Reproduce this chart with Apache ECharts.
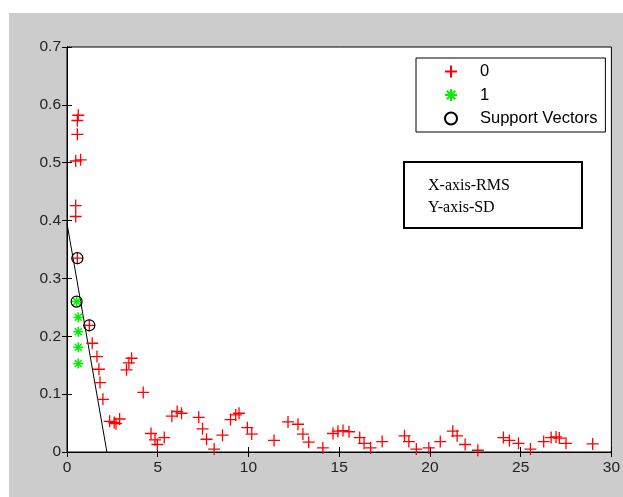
<!DOCTYPE html>
<html>
<head>
<meta charset="utf-8">
<script src="https://cdn.jsdelivr.net/npm/echarts@6/dist/echarts.min.js"></script>
<style>html,body{margin:0;padding:0;background:#fff;}#c{width:623px;height:497px;}</style>
</head>
<body>
<div id="c"></div>
<script>
// Class 0 (red +)
var class0X = [0.62,0.57,0.57,0.48,0.75,0.48,0.48,0.57,1.23,1.39,1.65,1.76,1.82,1.98,
  2.35,2.6,2.7,2.9,3.28,3.41,3.56,4.2,4.63,4.85,4.98,5.36,5.78,6.07,6.31,
  7.26,7.47,7.69,8.11,8.57,9.01,9.30,9.48,9.94,10.18,11.41,12.18,12.73,13.0,13.32,14.1,
  14.66,14.93,15.21,15.54,16.13,16.37,16.73,17.37,18.60,18.84,19.25,19.94,20.57,21.26,21.50,21.94,22.64,
  24.05,24.38,24.88,25.54,26.27,26.68,26.95,27.13,27.50,28.97];
var class0Y = [0.582,0.573,0.549,0.503,0.505,0.426,0.407,0.335,0.219,0.188,0.165,0.143,0.120,0.091,
  0.053,0.051,0.049,0.057,0.142,0.154,0.162,0.103,0.032,0.021,0.013,0.025,0.062,0.070,0.067,
  0.060,0.040,0.022,0.005,0.029,0.056,0.064,0.067,0.042,0.031,0.020,0.052,0.048,0.031,0.017,0.007,
  0.032,0.036,0.037,0.035,0.025,0.015,0.007,0.018,0.028,0.018,0.005,0.007,0.018,0.036,0.028,0.013,0.003,
  0.025,0.020,0.015,0.005,0.018,0.025,0.026,0.024,0.015,0.014];
// Class 1 (green *)
var class1X = [0.53,0.62,0.62,0.62,0.62];
var class1Y = [0.260,0.233,0.208,0.181,0.153];
// Support vectors (black o)
var svX = [0.57,0.53,1.23];
var svY = [0.335,0.260,0.219];
// Separating line
var lineX = [0,2.2];
var lineY = [0.395,0];
var xTicks = [0,5,10,15,20,25,30];
var yTicks = [0,0.1,0.2,0.3,0.4,0.5,0.6,0.7];
var seriesNames = ['0','1','Support Vectors'];

function zip(a,b){return a.map(function(v,i){return [v,b[i]];});}

var plusPath = 'path://M5,0V10M0,5H10';
var starPath = 'path://M5,0V10M0,5H10M1.5,1.5L8.5,8.5M8.5,1.5L1.5,8.5';
var circlePath = 'path://M9,5A4,4,0,1,1,1,5A4,4,0,1,1,9,5Z';
var axFont = {fontFamily:'Liberation Sans, Arial, sans-serif', fontSize:15.5, color:'#222'};

var chart = echarts.init(document.getElementById('c'), null, {renderer:'canvas'});
chart.setOption({
  backgroundColor:'#ffffff',
  animation:false,
  graphic:[
    {type:'rect', z:-10, shape:{x:9,y:13,width:614,height:484}, style:{fill:'#cccccc'}},
    {type:'group', z:50, children:[
      {type:'rect', shape:{x:404,y:162,width:178,height:66}, style:{fill:'#fff', stroke:'#000', lineWidth:2}},
      {type:'text', x:428, y:186, style:{text:'X-axis-RMS', font:'16px "Liberation Serif", "Times New Roman", serif', fill:'#000', textVerticalAlign:'middle', verticalAlign:'middle'}},
      {type:'text', x:428, y:208, style:{text:'Y-axis-SD', font:'16px "Liberation Serif", "Times New Roman", serif', fill:'#000', textVerticalAlign:'middle', verticalAlign:'middle'}}
    ]}
  ],
  grid:{left:67, top:47, right:11, bottom:45, show:true, backgroundColor:'#ffffff', borderColor:'#000', borderWidth:1},
  legend:{
    data:seriesNames.map(function(n,i){return {name:n, icon:[plusPath,starPath,'circle'][i]};}),
    orient:'vertical', left:416, top:58,
    padding:[5,8,5,28], itemGap:6.5, itemWidth:12, itemHeight:12,
    backgroundColor:'#fff', borderColor:'#000', borderWidth:1,
    textStyle:{fontFamily:'Liberation Sans, Arial, sans-serif', fontSize:16.5, color:'#000', padding:[0,0,0,18]},
    selectedMode:false
  },
  xAxis:[
    {type:'value', min:0, max:30, interval:5, position:'bottom',
     axisLine:{show:true, lineStyle:{color:'#000'}}, axisTick:{show:true, inside:true, length:5, lineStyle:{color:'#000'}},
     axisLabel:Object.assign({margin:8}, axFont), splitLine:{show:false}},
    {type:'value', min:0, max:30, interval:5, position:'top',
     axisLine:{show:true, lineStyle:{color:'#000'}}, axisTick:{show:true, inside:true, length:5, lineStyle:{color:'#000'}},
     axisLabel:{show:false}, splitLine:{show:false}}
  ],
  yAxis:[
    {type:'value', min:0, max:0.7, interval:0.1, position:'left',
     axisLine:{show:true, lineStyle:{color:'#000'}}, axisTick:{show:true, inside:true, length:5, lineStyle:{color:'#000'}},
     axisLabel:Object.assign({margin:6, formatter:function(v){return String(Math.round(v*10)/10);}}, axFont), splitLine:{show:false}},
    {type:'value', min:0, max:0.7, interval:0.1, position:'right',
     axisLine:{show:true, lineStyle:{color:'#000'}}, axisTick:{show:true, inside:true, length:5, lineStyle:{color:'#000'}},
     axisLabel:{show:false}, splitLine:{show:false}}
  ],
  series:[
    {name:'line', type:'line', data:zip(lineX,lineY), showSymbol:false, symbol:'none', lineStyle:{color:'#000', width:1}, z:3, silent:true},
    {name:'0', type:'scatter', data:zip(class0X,class0Y), symbol:plusPath, symbolSize:12,
     itemStyle:{color:'rgba(0,0,0,0)', borderColor:'#ff0000', borderWidth:1.3, opacity:1}, z:4},
    {name:'1', type:'scatter', data:zip(class1X,class1Y), symbol:starPath, symbolSize:10,
     itemStyle:{color:'rgba(0,0,0,0)', borderColor:'#00ee00', borderWidth:1.5, opacity:1}, z:5},
    {name:'Support Vectors', type:'scatter', data:zip(svX,svY), symbol:'circle', symbolSize:11,
     itemStyle:{color:'rgba(0,0,0,0)', borderColor:'#000', borderWidth:1.2, opacity:1}, z:6}
  ]
});
</script>
</body>
</html>
